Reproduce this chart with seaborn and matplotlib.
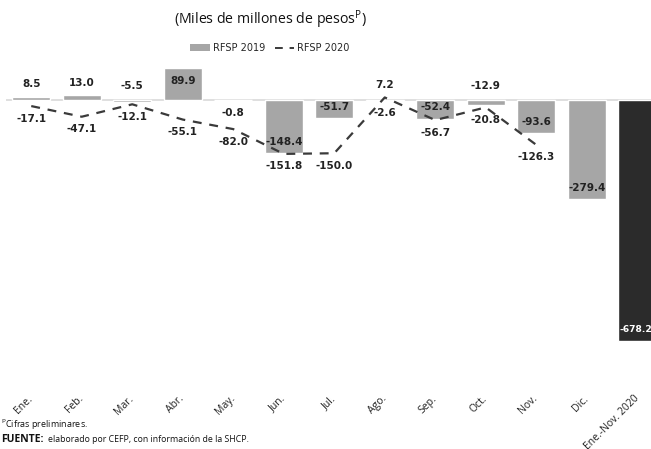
import numpy as np
import pandas as pd
import matplotlib
matplotlib.use("Agg")
import matplotlib.pyplot as plt
import seaborn as sns
from matplotlib.patches import Patch
from matplotlib.lines import Line2D

# ---- data ----
categories = ["Ene.", "Feb.", "Mar.", "Abr.", "May.", "Jun.", "Jul.", "Ago.",
              "Sep.", "Oct.", "Nov.", "Dic.", "Ene.-Nov. 2020"]
rfsp_2019 = [8.5, 13.0, -5.5, 89.9, -0.8, -148.4, -51.7, -2.6, -52.4, -12.9, -93.6, -279.4]
rfsp_total_2020 = [-678.2]
rfsp_2020 = [-17.1, -47.1, -12.1, -55.1, -82.0, -151.8, -150.0, 7.2, -56.7, -20.8, -126.3]

sns.set_theme(style="white")
plt.rcParams["font.family"] = ["DejaVu Sans"]

bar_vals = rfsp_2019 + rfsp_total_2020
df_bar = pd.DataFrame({"cat": categories, "val": bar_vals})
df_line = pd.DataFrame({"cat": categories[:len(rfsp_2020)], "val": rfsp_2020})

gray = "#a6a6a6"
dark = "#2b2b2b"
colors = [gray] * len(rfsp_2019) + [dark] * len(rfsp_total_2020)

W, H = 651, 449
fig = plt.figure(figsize=(W / 100, H / 100), dpi=100)
left_px, right_px = 6, 662.5
top_px, bot_px = 60, 368
ax = fig.add_axes([left_px / W, 1 - bot_px / H, (right_px - left_px) / W, (bot_px - top_px) / H])

ax.axhline(0, color="#d9d9d9", lw=1.2, zorder=0)
sns.barplot(data=df_bar, x="cat", y="val", hue="cat", palette=colors, legend=False,
            width=0.75, saturation=1, ax=ax, zorder=2)
sns.lineplot(data=df_line, x="cat", y="val", sort=False, color="#3a3a3a", lw=1.6,
             ax=ax, zorder=3)
ax.lines[-1].set_dashes((4, 3.5))

scale = 0.355  # px per unit
ax.set_ylim(-(bot_px - 100) / scale, (100 - top_px) / scale)
ax.set_xlim(-0.5, len(categories) - 0.5)
for s in ax.spines.values():
    s.set_visible(False)
ax.set_yticks([])
ax.set_xlabel("")
ax.set_ylabel("")
ax.tick_params(axis="x", length=0, pad=21)
ax.set_xticks(range(len(categories)))
ax.set_xticklabels(categories, rotation=45, ha="right", va="center",
                   rotation_mode="anchor", fontsize=7.5, family="Open Sans", color="#222222")

# bar labels (offsets in points)
lab_kw = dict(ha="center", va="center", fontweight="bold", textcoords="offset points")
last = len(bar_vals) - 1
for i, v in enumerate(bar_vals):
    dx, fs = 0, 7.5
    col = "#222222"
    if abs(v) >= 40:
        dy = -9 if v > 0 else 8
        if i == last:
            col, fs, dx = "white", 6.6, -1.2
    elif v > 0:
        dy = 9
    elif v < -5:
        dy = 10 + (-v) * scale * 0.75
    else:
        dy = -9
    ax.annotate(f"{v:.1f}", xy=(i, v), xytext=(dx, dy), color=col, fontsize=fs, **lab_kw)

# line labels
for i, v in enumerate(rfsp_2020):
    dy = 9 if v > 0 else -9
    ax.annotate(f"{v:.1f}", xy=(i, v), xytext=(0, dy), color="#222222", fontsize=7.5, **lab_kw)

# title
fig.text(270 / W, 1 - 20 / H, r"(Miles de millones de pesos$^{\mathregular{P}}$)", ha="center", va="center",
         fontsize=10.2, family="Open Sans", color="#111111")

handles = [Patch(facecolor=gray, edgecolor="none"),
           Line2D([0], [0], color="#3a3a3a", lw=1.4, dashes=(4, 3.5))]
fig.legend(handles, ["RFSP 2019", "RFSP 2020"], loc="center", bbox_to_anchor=(270 / W, 1 - 48 / H),
           ncol=2, frameon=False, prop={"family": "Liberation Sans Narrow", "size": 7},
           handlelength=2.0, handleheight=0.7, columnspacing=1.0, handletextpad=0.3)

fig.text(1 / W, 1 - 425 / H, r"$^{\mathregular{P}}$Cifras preliminares.", ha="left", va="center",
         fontsize=6.5, family="Open Sans", color="#111111")
t_fuente = fig.text(1 / W, 1 - 440 / H, "FUENTE:", ha="left", va="center", fontsize=7.5,
                    family="Open Sans", fontweight="bold", color="#111111")
fig.canvas.draw()
bb = t_fuente.get_window_extent()
fig.text((bb.x1 + 4) / W, 1 - 440 / H, "elaborado por CEFP, con información de la SHCP.", ha="left",
         va="center", fontsize=6.3, family="Open Sans", color="#111111")

fig.savefig("out.png", dpi=100)
